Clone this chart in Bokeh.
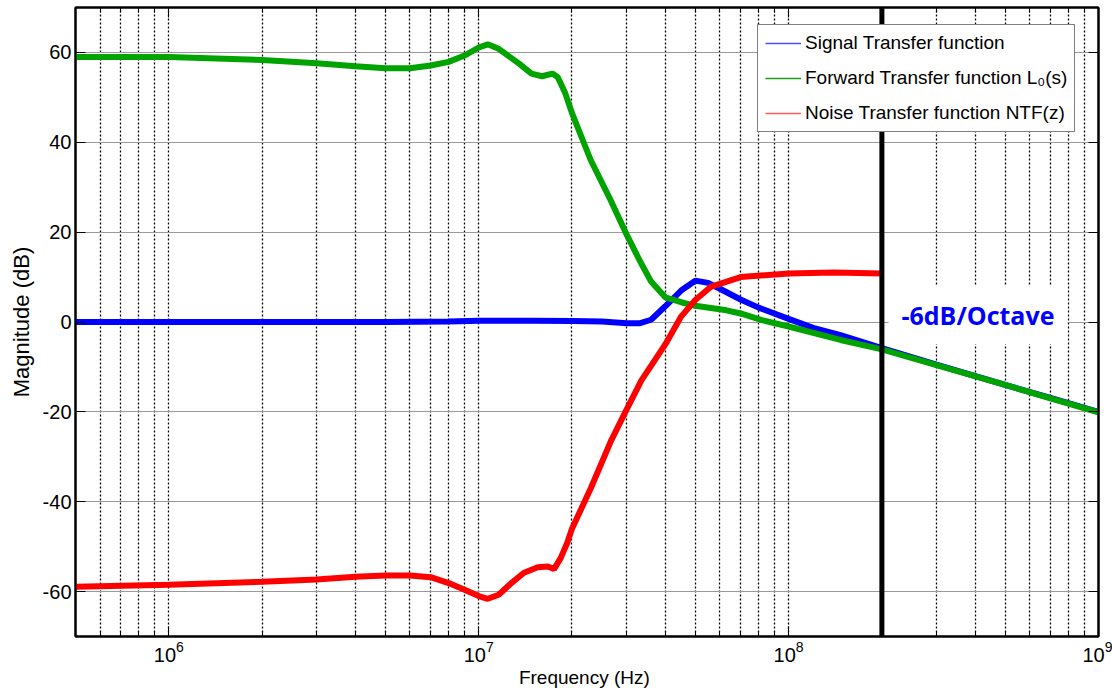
from bokeh.plotting import figure
from bokeh.models import (FixedTicker, LogAxis, LinearAxis, Span, Label,
                          Legend, LegendItem)
from bokeh.embed import file_html
from bokeh.resources import INLINE

# ---- frequency responses (frequency in Hz, magnitude in dB) ----
stf_freq = [5e5, 1e6, 3e6, 5e6, 8e6, 1e7, 1.5e7, 2e7, 2.5e7, 3e7, 3.3e7,
            3.6e7, 4e7, 4.5e7, 5e7, 5.5e7, 6e7, 7e7, 8e7, 1e8, 1.2e8,
            1.47e8, 2e8, 3e8, 5e8, 7e8, 1e9]
stf_db = [0.0, 0.0, 0.0, 0.0, 0.1, 0.3, 0.3, 0.2, 0.1, -0.3, -0.3,
          0.5, 3.5, 7.0, 9.2, 8.7, 7.4, 5.0, 3.2, 0.7, -1.3,
          -2.9, -5.8, -9.5, -14.0, -16.9, -20.0]

fwd_freq = [5e5, 1e6, 2e6, 3e6, 4e6, 5e6, 6e6, 7e6, 8e6, 9e6, 1e7, 1.07e7,
            1.16e7, 1.35e7, 1.48e7, 1.6e7, 1.73e7, 1.8e7, 1.9e7, 2e7, 2.3e7,
            2.67e7, 3e7, 3.3e7, 3.6e7, 4e7, 4.5e7, 5e7, 6.3e7, 7e7, 8.2e7,
            1e8, 1.47e8, 2e8, 3e8, 5e8, 7e8, 1e9]
fwd_db = [59.0, 59.0, 58.3, 57.6, 56.9, 56.5, 56.5, 57.1, 57.9, 59.3, 61.1,
          61.8, 60.8, 57.5, 55.3, 54.7, 55.3, 54.5, 51.0, 46.5, 36.0,
          27.0, 19.5, 13.8, 9.0, 5.5, 4.4, 3.6, 2.6, 1.9, 0.4,
          -1.0, -4.0, -6.1, -9.6, -14.0, -17.0, -20.1]

ntf_freq = [5e5, 1e6, 2e6, 3e6, 4e6, 5e6, 6e6, 7e6, 8e6, 9e6, 1e7, 1.07e7,
            1.16e7, 1.28e7, 1.4e7, 1.55e7, 1.67e7, 1.75e7, 1.84e7, 1.93e7,
            2e7, 2.3e7, 2.67e7, 3e7, 3.35e7, 4e7, 4.5e7, 5e7, 5.6e7, 7e7,
            1e8, 1.4e8, 2e8]
ntf_db = [-58.9, -58.5, -57.8, -57.3, -56.7, -56.4, -56.4, -56.8, -58.1,
          -59.6, -61.0, -61.6, -60.7, -58.0, -55.8, -54.6, -54.4, -55.0,
          -52.5, -49.2, -46.0, -37.0, -26.5, -19.5, -13.0, -5.0, 1.2, 4.9,
          7.8, 10.0, 10.8, 11.0, 10.8]

# sampling-related marker frequency and slope annotation
marker_freq = 2e8
slope_text = "-6dB/Octave"

legend_labels = ["Signal Transfer function",
                 "Forward Transfer function L\u2080(s)",
                 "Noise Transfer function NTF(z)"]

# axis ticks
x_major = [1e6, 1e7, 1e8, 1e9]
x_minor = [k * 10.0 ** e for e in range(5, 9) for k in range(2, 10)]
y_major = [-60, -40, -20, 0, 20, 40, 60]

BLUE = "#0000ff"
GREEN = "#00a300"
RED = "#ff0000"
KEY_BLUE = "#4d4dff"
KEY_GREEN = "#1f9a1f"
KEY_RED = "#ff5a5a"
FONT = "Liberation Sans"

p = figure(width=1112, height=690, x_axis_type="log",
           x_range=(5e5, 1e9), y_range=(-70, 70),
           output_backend="svg", toolbar_location=None,
           min_border_left=75, min_border_right=14,
           min_border_top=7, min_border_bottom=53)
p.background_fill_color = "white"
p.border_fill_color = "white"
p.outline_line_color = "black"
p.outline_line_width = 2

xticker = FixedTicker(ticks=x_major, minor_ticks=x_minor)
yticker = FixedTicker(ticks=y_major, minor_ticks=[])

xa = p.xaxis[0]
xa.ticker = xticker
xa.axis_label = "Frequency  (Hz)"
ya = p.yaxis[0]
ya.ticker = yticker
ya.axis_label = "Magnitude (dB)"
# plain hyphen-minus for negative tick labels
ya.major_label_overrides = {v: str(v) for v in y_major}

for ax in (xa, ya):
    ax.axis_line_width = 2
    ax.axis_line_color = "black"
    ax.major_tick_in = 10
    ax.major_tick_out = 0
    ax.minor_tick_in = 5
    ax.minor_tick_out = 0
    ax.major_tick_line_color = "black"
    ax.minor_tick_line_color = "black"
    ax.major_label_text_font = FONT
    ax.major_label_text_font_size = "20px"
    ax.major_label_text_color = "black"
    ax.axis_label_text_font = FONT
    ax.axis_label_text_font_style = "normal"
    ax.axis_label_text_color = "black"
xa.axis_label_text_font_size = "19px"
ya.axis_label_text_font_size = "22px"
ya.minor_tick_line_color = None
xa.major_label_standoff = 4
xa.axis_label_standoff = 2
ya.major_label_standoff = 4
ya.axis_label_standoff = 6

# box axes on top and right, ticks only
top = LogAxis(ticker=xticker, major_label_text_font_size="1px",
              major_label_text_color=None,
              major_label_standoff=0, axis_line_width=2,
              major_tick_in=10, major_tick_out=0,
              minor_tick_in=5, minor_tick_out=0)
right = LinearAxis(ticker=yticker, major_label_text_font_size="1px",
                   major_label_text_color=None,
                   major_label_standoff=0, axis_line_width=2,
                   major_tick_in=10, major_tick_out=0,
                   minor_tick_line_color=None)
p.add_layout(top, "above")
p.add_layout(right, "right")

# grids: dotted verticals at every decade subdivision, grey horizontals
p.xgrid.ticker = xticker
p.xgrid.grid_line_color = "black"
p.xgrid.grid_line_dash = "2 2"
p.xgrid.grid_line_width = 1.3
p.xgrid.minor_grid_line_color = "black"
p.xgrid.minor_grid_line_dash = "2 2"
p.xgrid.minor_grid_line_width = 1.3
p.ygrid.ticker = yticker
p.ygrid.grid_line_color = "#9a9a9a"
p.ygrid.grid_line_width = 1

# thin legend keys, laid under the thick curves
key_blue = p.line(stf_freq, stf_db, line_color=KEY_BLUE, line_width=1.5)
key_green = p.line(fwd_freq, fwd_db, line_color=KEY_GREEN, line_width=1.5)
key_red = p.line(ntf_freq, ntf_db, line_color=KEY_RED, line_width=1.5)
keys = [key_blue, key_green, key_red]

# response curves
p.line(stf_freq, stf_db, line_color=BLUE, line_width=6)
p.line(fwd_freq, fwd_db, line_color=GREEN, line_width=6)
p.line(ntf_freq, ntf_db, line_color=RED, line_width=6)

p.add_layout(Span(location=marker_freq, dimension="height",
                  line_color="black", line_width=5))

legend = Legend(items=[LegendItem(label=l, renderers=[r])
                       for l, r in zip(legend_labels, keys)],
                location=(682, 504), orientation="vertical",
                glyph_width=36, glyph_height=20, label_height=20,
                label_standoff=4, spacing=13, padding=7, margin=0,
                label_text_font=FONT, label_text_font_size="19px",
                label_text_color="black",
                border_line_color="black", border_line_width=1,
                background_fill_color="white", background_fill_alpha=1.0)
p.add_layout(legend)

p.add_layout(Label(x=2.1e8, y=1.5, text=slope_text,
                   text_font="Open Sans", text_font_style="bold",
                   text_font_size="25px", text_color=BLUE,
                   text_baseline="middle", text_align="left",
                   background_fill_color="white", background_fill_alpha=1.0,
                   padding=(13, 12)))

open("out.html", "w").write(file_html(p, INLINE))
